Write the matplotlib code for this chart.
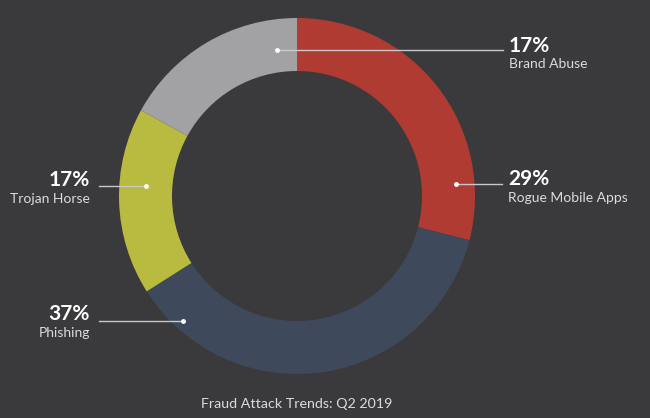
import numpy as np
import matplotlib.pyplot as plt

plt.rcParams['font.family'] = ['Lato', 'DejaVu Sans']

# data
labels = ['Rogue Mobile Apps', 'Phishing', 'Trojan Horse', 'Brand Abuse']
shares = [29, 37, 17, 17]
colors = ['#b03b33', '#3e4a5c', '#b8bb3f', '#a2a1a4']
title = 'Fraud Attack Trends: Q2 2019'

# label layout (pixel coords from top-left): anchor angle/radius, line end x, baselines
anchor_ang = [4.3, -132.4, 176.2, 97.8]
anchor_rad = [159, 169, 151, 147]
line_end_x = [502, 99, 99, 503]
pct_base = [185, 320, 186, 52]
name_base = [202, 337, 203, 68]

W, H = 650, 418
bg = '#3a393b'
fig = plt.figure(figsize=(6.5, 4.18), dpi=100, facecolor=bg)
ax = fig.add_axes([0, 0, 1, 1])
ax.set_facecolor(bg)

cx, cy, R = 297, H - 196, 178
ax.pie(shares, colors=colors, startangle=90, counterclock=False,
       center=(cx, cy), radius=R, wedgeprops=dict(width=53, linewidth=0))
ax.set_xlim(0, W)
ax.set_ylim(0, H)
ax.set_aspect('equal')
ax.axis('off')

for i, lab in enumerate(labels):
    a = np.deg2rad(anchor_ang[i])
    px = cx + anchor_rad[i] * np.cos(a)
    py = cy + anchor_rad[i] * np.sin(a)
    ax.plot([px, line_end_x[i]], [py, py], color='#c8c8c8', lw=1, zorder=3)
    ax.plot(px, py, 'o', color='white', ms=2.5, zorder=4)
    if line_end_x[i] > cx:
        tx, ha = line_end_x[i] + 6, 'left'
    else:
        tx, ha = line_end_x[i] - 9, 'right'
    ax.text(tx, H - pct_base[i], f'{shares[i]}%', ha=ha, va='baseline',
            fontsize=15, fontweight='bold', color='white')
    ax.text(tx, H - name_base[i], lab, ha=ha, va='baseline',
            fontsize=10, color='#dcdcdc')

ax.text(cx, H - 408, title, ha='center', va='baseline', fontsize=10.3, color='#dcdcdc')

fig.savefig('out.png', dpi=100, facecolor=bg)
